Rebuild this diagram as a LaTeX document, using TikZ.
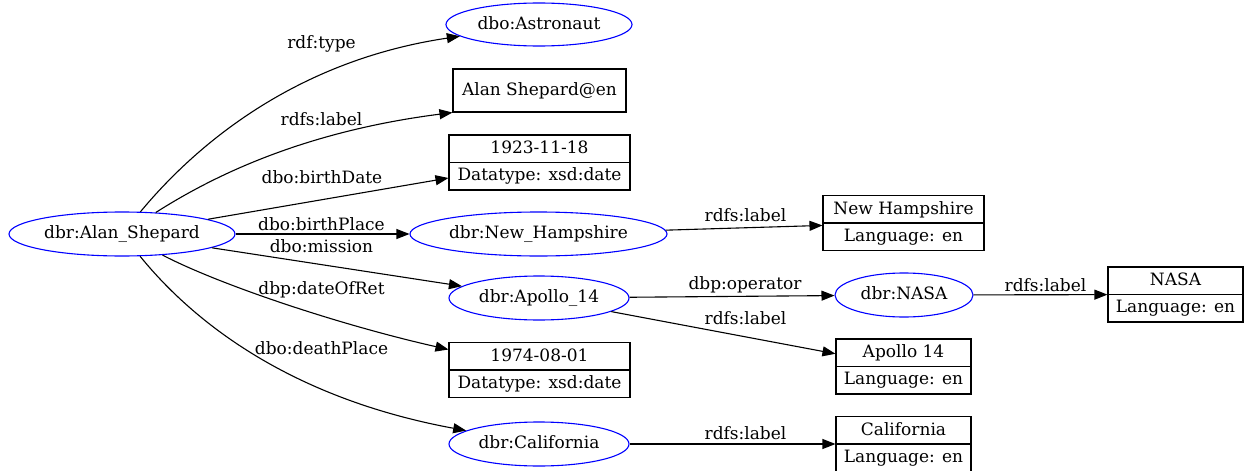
\documentclass[tikz,border=0pt]{standalone}
\usepackage{fontspec}
\setmainfont{DejaVu Serif}
\usetikzlibrary{shapes.geometric,arrows.meta,calc}
\tikzset{
  txt/.style={font=\fontsize{17}{20}\selectfont, text height=13pt, text depth=3.5pt, inner sep=0pt},
  ent/.style={txt, ellipse, draw=blue, line width=1.1pt, minimum height=44pt},
  recbox/.style={draw=black, line width=1.1pt, rectangle, inner sep=0pt, minimum height=55pt},
  recline/.style={draw=black, line width=1.1pt},
  edge/.style={draw=black, line width=1.1pt, -{Triangle[length=13pt,width=10pt]}},
  elab/.style={txt}
}
\newcommand{\rdfrec}[6]{%
  \node[recbox, minimum width=#4] (#1) at (#2,#3) {};
  \draw[recline] (#1.west) -- (#1.east);
  \node[txt] (#1t) at ($(#1.center)+(0,-13.5)$) {#5};
  \node[txt] (#1b) at ($(#1.center)+(0,13.5)$) {#6};
}
\begin{document}
\begin{tikzpicture}[x=1pt,y=-1pt]
\useasboundingbox (0,0) rectangle (1245,471);
% entity nodes
\node[ent, minimum width=226pt] (alan) at (122,234) {dbr:Alan\_Shepard};
\node[ent, minimum width=186pt, minimum height=43pt] (astro) at (539,24.5) {dbo:Astronaut};
\node[ent, minimum width=257pt] (nh) at (538.5,234) {dbr:New\_Hampshire};
\node[ent, minimum width=180pt] (apollo) at (539,298) {dbr:Apollo\_14};
\node[ent, minimum width=138pt] (nasa) at (904,295) {dbr:NASA};
\node[ent, minimum width=180pt] (cal) at (539,444) {dbr:California};
% literal box
\node[txt, draw=black, line width=1.1pt, minimum width=173pt, minimum height=43pt] (lab) at (539.5,90.5) {Alan Shepard@en};
% records
\rdfrec{bd}{539.5}{162.5}{181pt}{1923-11-18}{Datatype: xsd:date}
\rdfrec{nhrec}{903.5}{223}{161pt}{New Hampshire}{Language: en}
\rdfrec{nasarec}{1175.5}{294.5}{135pt}{NASA}{Language: en}
\rdfrec{aprec}{903.5}{366.5}{135pt}{Apollo 14}{Language: en}
\rdfrec{dd}{539.5}{370}{181pt}{1974-08-01}{Datatype: xsd:date}
\rdfrec{calrec}{903.5}{444}{135pt}{California}{Language: en}
% edges from Alan
\draw[edge] (alan) .. controls (200,140) and (300,60) .. (astro);
\draw[edge] (alan) .. controls (210,178) and (300,132) .. (lab.south west);
\draw[edge] (alan) -- (bd);
\draw[edge] (alan) -- (nh);
\draw[edge] (alan) -- (apollo);
\draw[edge] (alan) .. controls (220,285) and (340,325) .. (dd);
\draw[edge] (alan) .. controls (200,330) and (300,400) .. (cal);
% other edges
\draw[edge] (nh) -- (nhrec);
\draw[edge] (apollo) -- (nasa);
\draw[edge] (apollo) -- (aprec);
\draw[edge] (nasa) -- (nasarec);
\draw[edge] (cal) -- (calrec);
% edge labels
\node[elab] (l1) at (321.5,43.5) {rdf:type};
\node[elab] (l2) at (321.5,121) {rdfs:label};
\node[elab] (l3) at (322,178.5) {dbo:birthDate};
\node[elab] (l4) at (321.5,226) {dbo:birthPlace};
\node[elab] (l5) at (321.5,247.5) {dbo:mission};
\node[elab] (l6) at (321.5,289.5) {dbp:dateOfRet};
\node[elab] (l7) at (321.5,350) {dbo:deathPlace};
\node[elab] (l8) at (745.5,217) {rdfs:label};
\node[elab] (l9) at (745,285) {dbp:operator};
\node[elab] (l10) at (745.5,319.5) {rdfs:label};
\node[elab] (l11) at (745.5,434.5) {rdfs:label};
\node[elab] (l12) at (1045.5,287) {rdfs:label};
\end{tikzpicture}
\end{document}
